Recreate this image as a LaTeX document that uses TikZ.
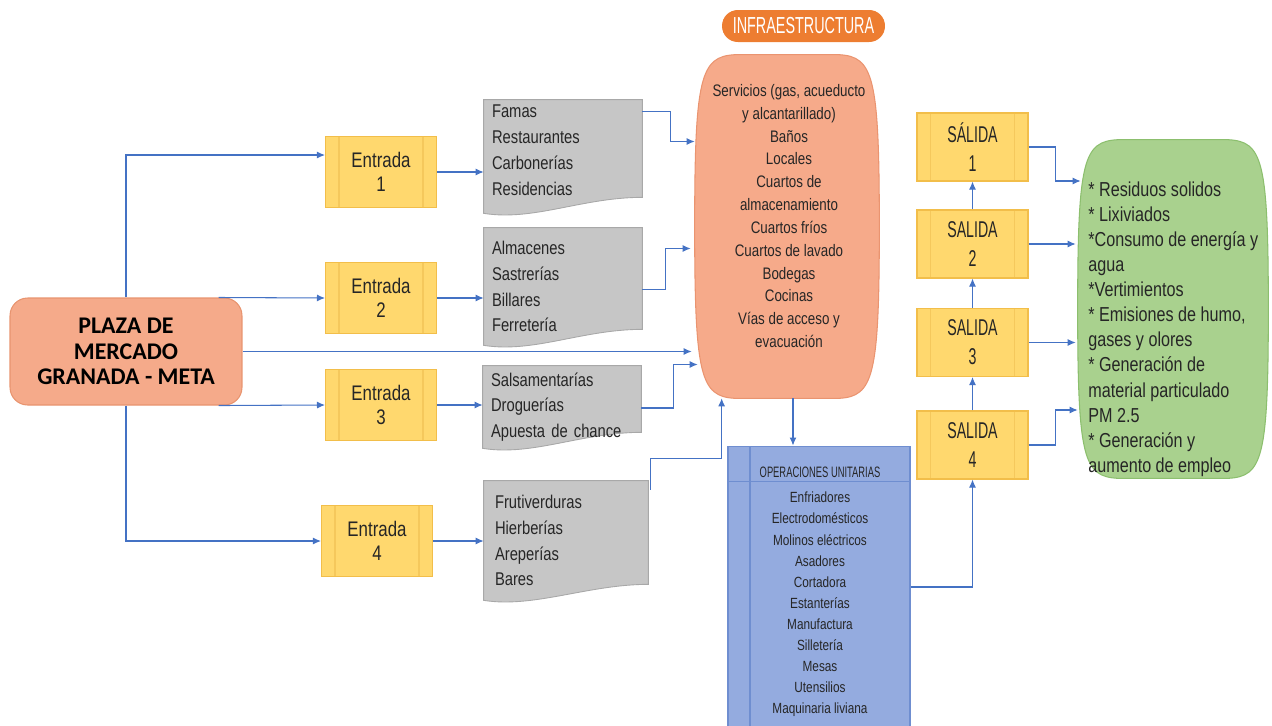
\documentclass[tikz,border=0pt]{standalone}
\usepackage{fontspec}
\setmainfont{Liberation Sans}[FakeStretch=0.8]
\newfontfamily\capsfont{Liberation Sans}[FakeStretch=0.62]
\newfontfamily\plazafont{Carlito}
\usetikzlibrary{arrows.meta,positioning,calc,backgrounds}
\definecolor{arrblue}{HTML}{4472C4}
\definecolor{entfill}{HTML}{FFD86E}
\definecolor{entline}{HTML}{F2BE4A}
\definecolor{entinner}{HTML}{F5C85C}
\definecolor{plazafill}{HTML}{F5AA8A}
\definecolor{plazaline}{HTML}{E8946F}
\definecolor{infrafill}{HTML}{F6AA8A}
\definecolor{infraline}{HTML}{EA9470}
\definecolor{infraorange}{HTML}{ED7D31}
\definecolor{docfill}{HTML}{C6C6C6}
\definecolor{docline}{HTML}{A8A8A8}
\definecolor{opsfill}{HTML}{94ABDF}
\definecolor{opsline}{HTML}{6F8ED0}
\definecolor{greenfill}{HTML}{A9D18E}
\definecolor{greenline}{HTML}{8CBF6E}
\definecolor{txtdark}{HTML}{262626}
\tikzset{
  flowarr/.style={-{Latex[length=1.6mm,width=1.4mm]}, line width=0.6pt, draw=arrblue},
  entbox/.style={draw=entline, fill=entfill, line width=0.6pt, minimum width=2.22cm,
    minimum height=1.42cm, align=center, inner sep=0pt, text=txtdark,
    font=\fontsize{12}{14}\selectfont,
    path picture={\draw[entinner, line width=0.6pt]
      ([xshift=0.27cm]path picture bounding box.north west) -- ([xshift=0.27cm]path picture bounding box.south west)
      ([xshift=-0.27cm]path picture bounding box.north east) -- ([xshift=-0.27cm]path picture bounding box.south east);}},
  docbox/.style={minimum width=3.16cm, text width=2.84cm, align=left, inner sep=0pt,
    text=txtdark, font=\fontsize{10.5}{14.7}\selectfont},
}
% grey sheet with a wavy lower edge
\newcommand{\docshape}[1]{%
  \path[fill=docfill, draw=docline, line width=0.5pt] (#1.north west) -- (#1.north east)
    -- ($(#1.south east)+(0,-16)$)
    .. controls ($(#1.south east)+(-60,-16)$) and ($(#1.south west)+(50,8)$) .. (#1.south west) -- cycle;}
% box with bulging sides
\newcommand{\barrel}[3]{%
  \path[#2] ($(#1.north west)+(40,0)$) -- ($(#1.north east)+(-40,0)$)
    .. controls ($(#1.north east)+(-6,2)$) and ($(#1.east)+(0,-#3)$) .. (#1.east)
    .. controls ($(#1.east)+(0,#3)$) and ($(#1.south east)+(-6,-2)$) .. ($(#1.south east)+(-40,0)$)
    -- ($(#1.south west)+(40,0)$)
    .. controls ($(#1.south west)+(6,-2)$) and ($(#1.west)+(0,#3)$) .. (#1.west)
    .. controls ($(#1.west)+(0,-#3)$) and ($(#1.north west)+(6,2)$) .. cycle;}

\begin{document}
\begin{tikzpicture}[
  x=0.02cm, y=-0.02cm,
  salbox/.style={entbox, minimum height=1.36cm, font=\capsfont\fontsize{13}{16.5}\selectfont},
  plazabox/.style={draw=plazaline, fill=plazafill, line width=0.6pt, rounded corners=10pt,
    minimum width=4.64cm, minimum height=2.14cm, align=center, inner sep=0pt,
    font=\plazafont\bfseries\fontsize{13.6}{14.5}\selectfont},
  infrabox/.style={minimum width=3.68cm, minimum height=6.86cm, inner sep=0pt},
  infratext/.style={align=center, inner sep=0pt, text=txtdark, font=\fontsize{9.5}{13}\selectfont},
  infralabel/.style={fill=infraorange, rounded corners=9pt, minimum width=3.26cm,
    minimum height=0.64cm, inner sep=0pt, text=white, font=\capsfont\fontsize{13.2}{14}\selectfont},
  opsbox/.style={draw=opsline, fill=opsfill, line width=0.6pt, minimum width=3.64cm,
    minimum height=5.8cm, inner sep=0pt,
    path picture={\draw[opsline, line width=0.6pt]
      ([xshift=0.44cm]path picture bounding box.north west) -- ([xshift=0.44cm]path picture bounding box.south west)
      ([yshift=-0.7cm]path picture bounding box.north west) -- ([yshift=-0.7cm]path picture bounding box.north east);}},
  opstext/.style={anchor=north, align=center, inner sep=0pt, text=txtdark,
    font=\fontsize{8.4}{12}\selectfont},
  greenbox/.style={minimum width=3.8cm, minimum height=6.76cm, inner sep=0pt},
  greentext/.style={anchor=north west, align=left, inner sep=0pt, text=txtdark,
    font=\fontsize{11.5}{14.3}\selectfont},
]
  \useasboundingbox (0,0) rectangle (1272,725);

  \node[plazabox] (plaza) at (126,351.5) {PLAZA DE\\MERCADO\\GRANADA - META};

  \node[entbox] (ent1) at (381,172) {Entrada\\1};
  \node[entbox] (ent2) at (381,298) {Entrada\\2};
  \node[entbox] (ent3) at (381,405) {Entrada\\3};
  \node[entbox] (ent4) at (377,541) {Entrada\\4};

  \node[docbox, minimum height=2.26cm] (doc1) at (563,156.5) {Famas\\Restaurantes\\Carbonerías\\Residencias\vspace{7pt}};
  \node[docbox, minimum height=2.34cm] (doc2) at (563,286.5) {Almacenes\\Sastrerías\\Billares\\Ferretería};
  \node[docbox, minimum height=1.64cm] (doc3) at (562,407) {Salsamentarías\\Droguerías\\Apuesta de chance};
  \node[docbox, minimum height=2.38cm, minimum width=3.28cm] (doc4) at (566,540.5) {Frutiverduras\\Hierberías\\Areperías\\Bares};

  \node[infralabel] (infralbl) at (803.5,26) {INFRAESTRUCTURA};
  \node[infrabox] (infra) at (787,226.5) {};
  \node[infratext] (infratxt) at (789,216) {Servicios (gas, acueducto\\y alcantarillado)\\Baños\\Locales\\Cuartos de\\almacenamiento\\Cuartos fríos\\Cuartos de lavado\\Bodegas\\Cocinas\\Vías de acceso y\\evacuación};

  \node[opsbox] (ops) at (819,591) {};
  \node[opstext] (opstxt) at (820,467) {{\capsfont\fontsize{8.6}{11}\selectfont OPERACIONES UNITARIAS}\\[2.2pt]
    Enfriadores\\Electrodomésticos\\Molinos eléctricos\\Asadores\\Cortadora\\Estanterías\\Manufactura\\Silletería\\Mesas\\Utensilios\\Maquinaria liviana};

  \node[salbox] (sal1) at (972.5,147) {SÁLIDA\\1};
  \node[salbox] (sal2) at (972.5,244) {SALIDA\\2};
  \node[salbox] (sal3) at (972.5,342.5) {SALIDA\\3};
  \node[salbox] (sal4) at (972.5,445) {SALIDA\\4};

  \node[greenbox] (green) at (1173,309) {};
  \node[greentext] (greentxt) at (1088,181) {* Residuos solidos\\* Lixiviados\\*Consumo de energía y\\agua\\*Vertimientos\\* Emisiones de humo,\\gases y olores\\* Generación de\\material particulado\\PM 2.5\\* Generación y\\aumento de empleo};

  \begin{scope}[on background layer]
    \docshape{doc1}
    \docshape{doc2}
    \docshape{doc3}
    \docshape{doc4}
    \barrel{infra}{fill=infrafill, draw=infraline, line width=0.6pt}{150}
    \barrel{green}{fill=greenfill, draw=greenline, line width=0.6pt}{150}
  \end{scope}

  % plaza to the entries
  \draw[flowarr] (plaza.north) |- ($(ent1.west)+(0,-17)$);
  \draw[flowarr] ($(plaza.north east)+(-24,0)$) -- (ent2.west);
  \draw[flowarr] ($(plaza.south east)+(-24,0)$) -- (ent3.west);
  \draw[flowarr] (plaza.south) |- (ent4.west);
  \draw[flowarr] (plaza.east) -- ($(plaza.east -| infra.west)+(-3,0)$);

  \foreach \i in {1,...,4}
    \draw[flowarr] (ent\i) -- (ent\i -| doc\i.west);

  % sheets to the infrastructure
  \draw[flowarr] ($(doc1.north east)+(0,12)$) -- ++(28,0) |- ($(infra.west)+(0,-85)$);
  \draw[flowarr] ($(doc2.east)+(0,3)$) -- ++(23,0) |- ($(infra.west)+(-4,22)$);
  \draw[flowarr] ($(doc3.east)+(0,1)$) -- ++(32,0) |- ($(infra.west)+(3,138)$);
  \draw[flowarr] ($(doc4.north east)+(2,9)$) |- ($(infra.south west)+(27,60)$) -- ($(infra.south west)+(27,0)$);

  \coordinate (infrabot) at ($(infra.south)+(6,0)$);
  \draw[flowarr] (infrabot) -- (infrabot |- ops.north);
  \draw[flowarr] ($(ops.east)+(0,-4)$) -| (sal4.south);

  \foreach \a/\b in {sal4/sal3,sal3/sal2,sal2/sal1}
    \draw[flowarr] (\a) -- (\b);

  % exits to the impacts
  \draw[flowarr] (sal1.east) -- ++(27,0) |- ($(green.west)+(3,-128)$);
  \draw[flowarr] (sal2.east) -- ($(sal2.east -| green.west)+(-2,0)$);
  \draw[flowarr] (sal3.east) -- ($(sal3.east -| green.west)+(-2,0)$);
  \draw[flowarr] (sal4.east) -- ++(27,0) |- ($(green.west)+(0,101)$);
\end{tikzpicture}
\end{document}
